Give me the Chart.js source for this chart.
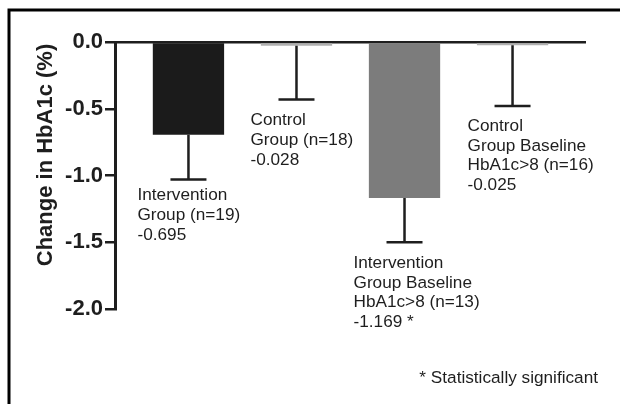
<!DOCTYPE html>
<html>
<head>
<meta charset="utf-8">
<script src="https://cdn.jsdelivr.net/npm/chart.js@4/dist/chart.umd.min.js"></script>
<style>
  html, body { margin: 0; padding: 0; background: #fff; }
  canvas { display: block; }
</style>
</head>
<body>
<canvas id="chart" width="620" height="404"></canvas>
<script>
// Group labels (one entry per line of text under each bar)
const categories = [
  ['Intervention', 'Group (n=19)'],
  ['Control', 'Group (n=18)'],
  ['Intervention', 'Group Baseline', 'HbA1c>8 (n=13)'],
  ['Control', 'Group Baseline', 'HbA1c>8 (n=16)']
];
// Mean change in HbA1c (%)
const meanChange = [-0.695, -0.028, -1.169, -0.025];
// Lower end of each error bar
const errorLow = [-1.03, -0.43, -1.50, -0.48];
// Statistical significance flags
const significant = [false, false, true, false];
// Y axis ticks
const yTicks = [0, -0.5, -1.0, -1.5, -2.0];

const FONT = "'Liberation Sans', Arial, Helvetica, sans-serif";
const INK = '#1e1e1e';

const barColors = ['#1b1b1b', '#b0b0b0', '#7c7c7c', '#b0b0b0'];

// Frame lines along top and left edges
const framePlugin = {
  id: 'frame',
  afterDraw(chart) {
    const c = chart.ctx;
    c.save();
    c.strokeStyle = '#000';
    c.lineWidth = 3;
    c.beginPath();
    c.moveTo(9, 404);
    c.lineTo(9, 10);
    c.lineTo(620, 10);
    c.stroke();
    c.restore();
  }
};

// Error bars (downward whiskers with a cap)
const errorBarPlugin = {
  id: 'errorBars',
  afterDatasetsDraw(chart, args, opts) {
    const c = chart.ctx;
    const y = chart.scales.y;
    const meta = chart.getDatasetMeta(0);
    c.save();
    c.strokeStyle = INK;
    c.lineWidth = opts.lineWidth;
    meta.data.forEach((bar, i) => {
      const y0 = y.getPixelForValue(meanChange[i]);
      const y1 = y.getPixelForValue(errorLow[i]);
      c.beginPath();
      c.moveTo(bar.x, y0);
      c.lineTo(bar.x, y1);
      c.moveTo(bar.x - opts.capHalf, y1);
      c.lineTo(bar.x + opts.capHalf, y1);
      c.stroke();
    });
    c.restore();
  }
};

// Group names and values written below each error bar, plus the footnote
const annotationPlugin = {
  id: 'annotations',
  afterDraw(chart, args, opts) {
    const c = chart.ctx;
    const y = chart.scales.y;
    const meta = chart.getDatasetMeta(0);
    c.save();
    c.fillStyle = INK;
    c.font = opts.fontSize + 'px ' + FONT;
    c.textAlign = 'left';
    c.textBaseline = 'middle';
    meta.data.forEach((bar, i) => {
      const lines = categories[i].concat([
        meanChange[i].toFixed(3) + (significant[i] ? ' *' : '')
      ]);
      const x0 = bar.x + opts.dx[i];
      const y0 = y.getPixelForValue(errorLow[i]) + opts.dy[i];
      lines.forEach((t, k) => c.fillText(t, x0, y0 + k * opts.lineHeight));
    });
    c.textAlign = 'right';
    c.fillText('* Statistically significant', opts.noteX, opts.noteY);

    // Rotated y axis title
    c.font = 'bold 22px ' + FONT;
    c.textAlign = 'center';
    c.translate(opts.titleX, opts.titleY);
    c.rotate(-Math.PI / 2);
    c.fillText('Change in HbA1c (%)', 0, 0);
    c.restore();
  }
};

new Chart(document.getElementById('chart'), {
  type: 'bar',
  data: {
    datasets: [{
      data: meanChange.map((v, i) => ({ x: i, y: v })),
      backgroundColor: barColors,
      borderWidth: 0,
      categoryPercentage: 1,
      barPercentage: 0.66
    }]
  },
  options: {
    responsive: false,
    devicePixelRatio: 1,
    animation: false,
    layout: { padding: { left: 0, top: 42, right: 34, bottom: 95 } },
    plugins: {
      legend: { display: false },
      tooltip: { enabled: false },
      errorBars: { lineWidth: 2.5, capHalf: 18 },
      annotations: {
        fontSize: 17.2,
        lineHeight: 19.7,
        dx: [-51, -46, -51, -45],
        dy: [16, 21, 21, 20],
        noteX: 598, noteY: 378,
        titleX: 46, titleY: 155
      }
    },
    scales: {
      x: {
        type: 'linear',
        display: false,
        offset: false,
        min: -0.68,
        max: 3.68,
        afterBuildTicks(scale) {
          scale.ticks = categories.map((_, i) => ({ value: i }));
        }
      },
      y: {
        min: -2,
        max: 0,
        afterBuildTicks(scale) {
          scale.ticks = yTicks.map(v => ({ value: v }));
        },
        afterFit(scale) { scale.width = 115; },
        border: { display: true, color: INK, width: 3 },
        grid: {
          drawOnChartArea: true,
          color: ctx => (ctx.tick && ctx.tick.value === 0 ? INK : 'rgba(0,0,0,0)'),
          lineWidth: 2.5,
          tickColor: INK,
          tickWidth: 2.5,
          tickLength: 10
        },
        ticks: {
          color: INK,
          padding: 2,
          font: { family: FONT, size: 22, weight: 'bold' },
          callback: v => Number(v).toFixed(1)
        }
      }
    }
  },
  plugins: [framePlugin, errorBarPlugin, annotationPlugin]
});
</script>
</body>
</html>
